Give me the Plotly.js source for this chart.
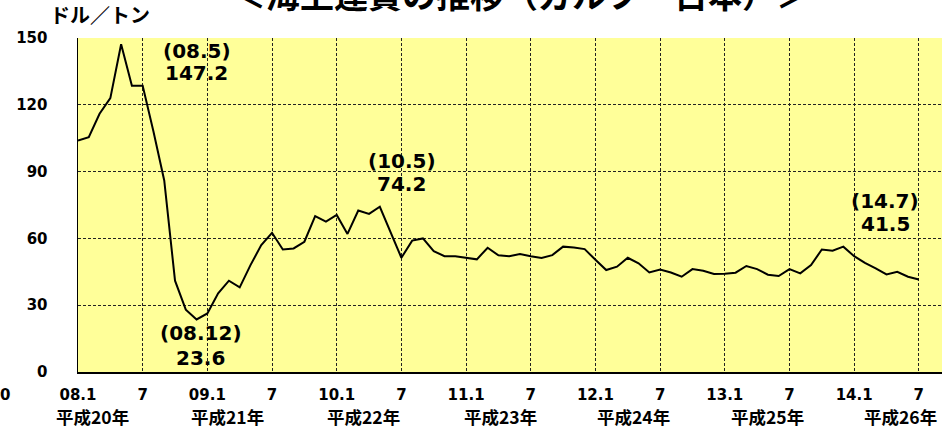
<!DOCTYPE html>
<html>
<head>
<meta charset="utf-8">
<script src="https://cdn.plot.ly/plotly-3.0.1.min.js"></script>
<style>html,body{margin:0;padding:0;background:#fff;}#chart{width:942px;height:428px;}</style>
</head>
<body>
<div id="chart"></div>
<script>
// Monthly freight rate (USD/ton), 2008.1 .. 2014.7
const freight = [
  104, 105.5, 116, 123, 147.2, 128.5, 128.5, 108, 86, 41, 28, 23.6,
  26.3, 35.3, 41, 38, 48, 57, 62.5, 55, 55.5, 58.5, 70, 67.5,
  70.5, 62, 72.5, 71, 74.2, 63, 51.3, 59, 60, 54.3, 52, 52,
  51.3, 50.6, 55.8, 52.4, 52, 53, 52, 51.2, 52.5, 56.3, 55.9, 55.2,
  50.4, 45.8, 47.3, 51.3, 48.8, 44.7, 46, 44.7, 42.8, 46.2, 45.5, 44,
  44.1, 44.6, 47.6, 46.2, 43.7, 43.1, 46.2, 44.3, 48, 55, 54.5, 56.3,
  52, 49, 46.5, 43.8, 45, 42.8, 41.5
];
const tickMonths = [0, 6, 12, 18, 24, 30, 36, 42, 48, 54, 60, 66, 72, 78];
const tickLabels = ["08.1","7","09.1","7","10.1","7","11.1","7","12.1","7","13.1","7","14.1","7"];
const yearLabels = ["平成20年","平成21年","平成22年","平成23年","平成24年","平成25年","平成26年"];
const yTicks = [0, 30, 60, 90, 120, 150];
const peakLabels = [
  {idx: "(08.5)", val: "147.2"},
  {idx: "(08.12)", val: "23.6"},
  {idx: "(10.5)", val: "74.2"},
  {idx: "(14.7)", val: "41.5"}
];

const months = freight.map((v, i) => i);
const bold = (s) => ({family: "DejaVu Sans, Arial, sans-serif", size: s, color: "#000", weight: "bold"});
const cjk = (s) => ({family: "Noto Sans CJK JP, sans-serif", size: s, color: "#000", weight: "bold"});

// layout positions (not data)
const yearPos = [1.3, 13.9, 26.5, 39.2, 51.5, 64.0, 76.3];
const peakPos = [
  {x: 11.0, y1: 144.2, y2: 134.2},
  {x: 11.4, y1: 17.7, y2: 6.4},
  {x: 30.05, y1: 94.8, y2: 84.6},
  {x: 74.9, y1: 76.8, y2: 66.6}
];

const annotations = [];
yearLabels.forEach((t, i) => annotations.push({
  text: t, x: yearPos[i], xref: "x", y: -0.132, yref: "paper",
  showarrow: false, xanchor: "center", yanchor: "middle", font: cjk(17.5)
}));
peakLabels.forEach((p, i) => {
  annotations.push({text: p.idx, x: peakPos[i].x, y: peakPos[i].y1, xref: "x", yref: "y",
    showarrow: false, xanchor: "center", yanchor: "middle", font: bold(20)});
  annotations.push({text: p.val, x: peakPos[i].x, y: peakPos[i].y2, xref: "x", yref: "y",
    showarrow: false, xanchor: "center", yanchor: "middle", font: bold(20)});
});
annotations.push({text: "ドル／トン", x: -0.035, xref: "paper", y: 1.069, yref: "paper",
  showarrow: false, xanchor: "left", yanchor: "middle", font: cjk(20)});
annotations.push({text: "＜海上運賃の推移（ガルフ－日本）＞", x: 0.513, xref: "paper", y: 1.132, yref: "paper",
  showarrow: false, xanchor: "center", yanchor: "middle", font: cjk(34)});
annotations.push({text: "0", x: -0.0845, xref: "paper", y: -0.069, yref: "paper",
  showarrow: false, xanchor: "center", yanchor: "middle", font: bold(15)});

const trace = {
  x: months, y: freight, type: "scatter", mode: "lines",
  line: {color: "#000", width: 2}, hoverinfo: "skip"
};

const layout = {
  width: 942, height: 428,
  margin: {l: 78, r: 0, t: 38, b: 56, pad: 0},
  paper_bgcolor: "#fff", plot_bgcolor: "#FFFF99",
  showlegend: false,
  xaxis: {
    range: [0, 80.15], tickmode: "array", tickvals: tickMonths, ticktext: tickLabels,
    showgrid: true, gridcolor: "#222", griddash: "3px,2px", gridwidth: 1,
    showline: true, linecolor: "#000", linewidth: 2, ticks: "", zeroline: false,
    tickfont: bold(15), ticklabelstandoff: 8, fixedrange: true
  },
  yaxis: {
    range: [0, 150], tickmode: "array", tickvals: yTicks,
    showgrid: true, gridcolor: "#222", griddash: "3px,2px", gridwidth: 1,
    showline: true, linecolor: "#000", linewidth: 1.5, ticks: "", zeroline: false,
    tickfont: bold(15), ticklabelstandoff: 26, fixedrange: true
  },
  annotations: annotations
};

Plotly.newPlot("chart", [trace], layout, {staticPlot: true, displayModeBar: false});
</script>
</body>
</html>
